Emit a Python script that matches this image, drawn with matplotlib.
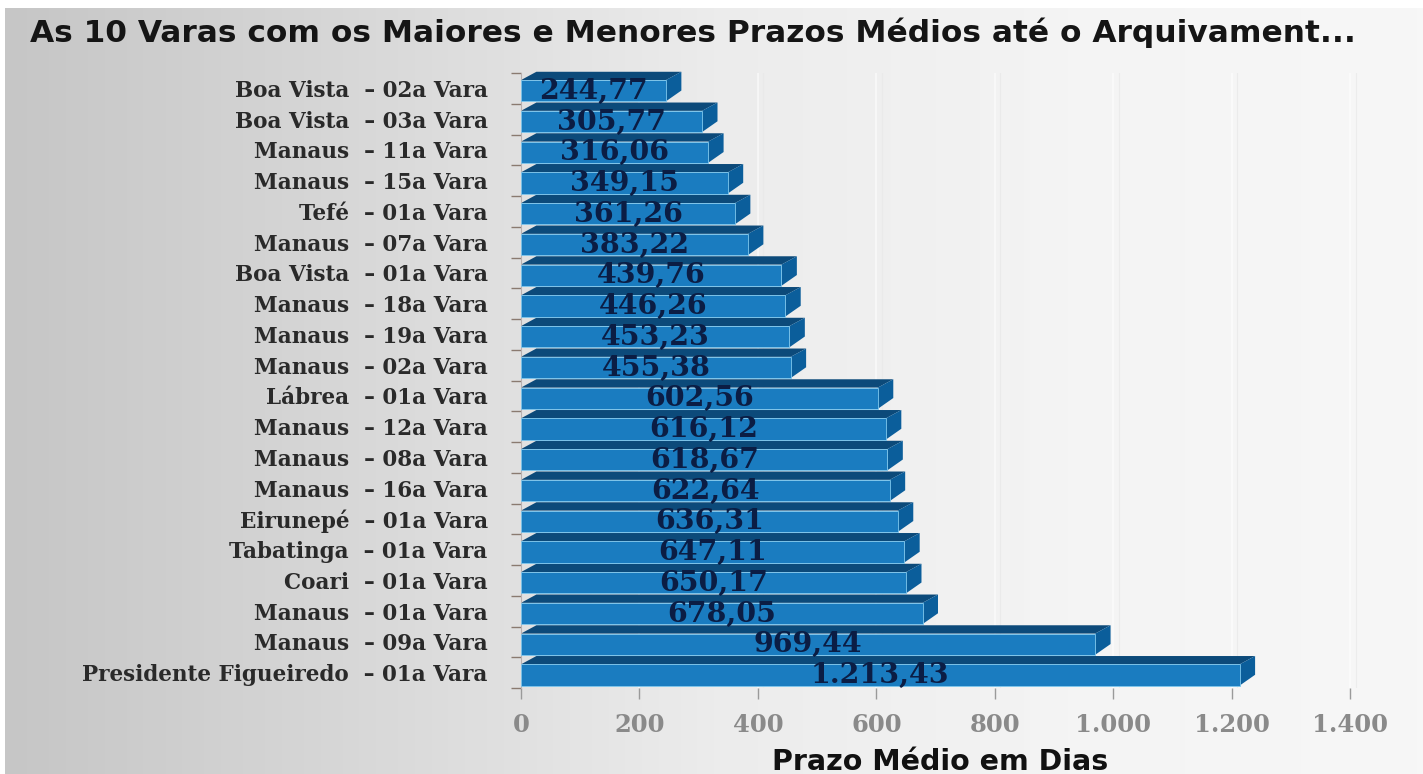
import matplotlib
matplotlib.use("Agg")
import matplotlib.pyplot as plt
import numpy as np
from matplotlib.patches import Polygon

# Dados do grafico (de cima para baixo)
varas = ["Boa Vista  \u2013 02a Vara", "Boa Vista  \u2013 03a Vara", "Manaus  \u2013 11a Vara",
         "Manaus  \u2013 15a Vara", "Tefé  \u2013 01a Vara", "Manaus  \u2013 07a Vara",
         "Boa Vista  \u2013 01a Vara", "Manaus  \u2013 18a Vara", "Manaus  \u2013 19a Vara",
         "Manaus  \u2013 02a Vara", "Lábrea  \u2013 01a Vara", "Manaus  \u2013 12a Vara",
         "Manaus  \u2013 08a Vara", "Manaus  \u2013 16a Vara", "Eirunepé  \u2013 01a Vara",
         "Tabatinga  \u2013 01a Vara", "Coari  \u2013 01a Vara", "Manaus  \u2013 01a Vara",
         "Manaus  \u2013 09a Vara", "Presidente Figueiredo  \u2013 01a Vara"]
prazos = [244.77, 305.77, 316.06, 349.15, 361.26, 383.22, 439.76, 446.26, 453.23, 455.38,
          602.56, 616.12, 618.67, 622.64, 636.31, 647.11, 650.17, 678.05, 969.44, 1213.43]
xticks = [0, 200, 400, 600, 800, 1000, 1200, 1400]

titulo = "As 10 Varas com os Maiores e Menores Prazos Médios até o Arquivament..."
xlabel = "Prazo Médio em Dias"


# Formata numero no padrao brasileiro
def fmtBR(v, dec=2):
    s = "{:,.{d}f}".format(v, d=dec)
    return s.replace(",", "X").replace(".", ",").replace("X", ".")


W, H = 1423, 774
fig = plt.figure(figsize=(W / 100, H / 100), dpi=100)
fig.patch.set_facecolor("white")

# Fundo em degrade
bg = fig.add_axes([5 / W, 0, 1 - 5 / W, 1 - 8 / H])
grad = np.linspace(0, 1, 256).reshape(1, -1)
bg.imshow(grad, aspect="auto", cmap=matplotlib.colors.LinearSegmentedColormap.from_list(
    "g", ["#c6c6c6", "#d8d8d8", "#ececec", "#f4f4f4", "#f7f7f7"]), extent=[0, 1, 0, 1])
bg.set_axis_off()

fig.text(30 / W, 1 - 33 / H, titulo, fontsize=22.5, fontweight="bold", color="#151515",
         ha="left", va="center", family="DejaVu Sans")

x0, x1 = 521, 1365
ytop, ybot = 73, 688
ax = fig.add_axes([x0 / W, 1 - ybot / H, (x1 - x0) / W, (ybot - ytop) / H])
ax.set_facecolor("none")

n = len(prazos)
ypos = np.arange(n)
ax.set_xlim(0, 1425)
ax.set_ylim(n - 0.5, -0.5)

# Linhas de grade verticais (discretas)
for t in xticks[1:]:
    ax.axvline(t, color="white", lw=1.2, alpha=0.6, zorder=0)
    ax.axvline(t + 9, color="#e8e8e8", lw=0.8, alpha=0.7, zorder=0)

# Barras 3D
front_top, front_bot = -0.27, 0.42
dx, dy = 26, 0.27
ax.barh(ypos + (front_top + front_bot) / 2, prazos, height=front_bot - front_top,
        color="#1a7cc0", edgecolor="#7fc8ee", linewidth=0.6, zorder=3)
for y, v in zip(ypos, prazos):
    topo = Polygon([(0, y + front_top), (v, y + front_top), (v + dx, y + front_top - dy),
                    (dx, y + front_top - dy)], closed=True, facecolor="#0c4a7a",
                   edgecolor="none", zorder=2, clip_on=False)
    lado = Polygon([(v, y + front_top), (v + dx, y + front_top - dy),
                    (v + dx, y + front_bot - dy - 0.08), (v, y + front_bot)], closed=True,
                   facecolor="#0b5e9b", edgecolor="none", zorder=2, clip_on=False)
    ax.add_patch(topo)
    ax.add_patch(lado)
    ax.text(v / 2, y + (front_top + front_bot) / 2 + 0.02, fmtBR(v), ha="center",
            va="center", fontsize=20.5, fontweight="bold", color="#0b1d44",
            family="DejaVu Serif", zorder=4)

# Eixos
ax.set_yticks(np.arange(n + 1) - 0.5)
ax.set_yticklabels([])
ax.set_yticks(ypos, minor=True)
ax.set_yticklabels(varas, minor=True, fontsize=15.5, fontweight="bold", color="#2a2a2a",
                   family="DejaVu Serif")
ax.tick_params(axis="y", which="minor", length=0, pad=24)
ax.tick_params(axis="y", which="major", length=7, color="#8a7a70", width=1)

ax.set_xticks(xticks)
ax.set_xticklabels([fmtBR(t, 0) for t in xticks], fontsize=17.5, fontweight="bold",
                   color="#8a8a8a", family="DejaVu Serif")
ax.tick_params(axis="x", length=8, color="#9a9a9a", width=1, pad=10, direction="out")
ax.set_xlabel(xlabel, fontsize=20.5, fontweight="bold", color="#111111",
              family="DejaVu Sans")
ax.xaxis.label.set_verticalalignment("center")
ax.xaxis.set_label_coords((940 - x0) / (x1 - x0), -(762 - ybot) / (ybot - ytop))

for s in ["top", "right", "bottom"]:
    ax.spines[s].set_visible(False)
ax.spines["left"].set_color("#b8b0b0")
ax.spines["left"].set_linewidth(0.8)

fig.savefig("out.png", dpi=100)
